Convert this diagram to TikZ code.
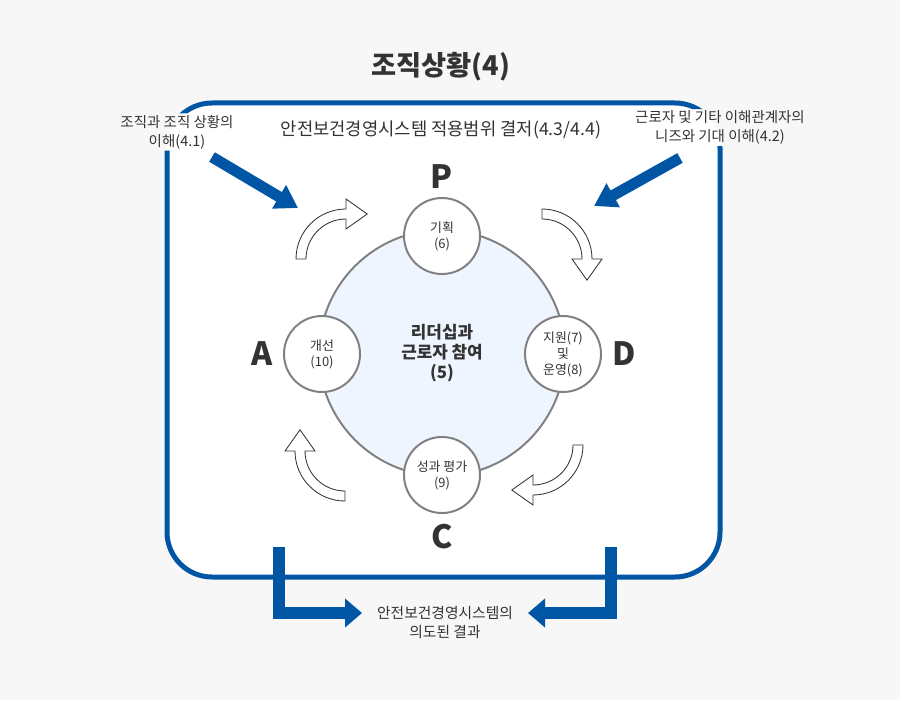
\documentclass[tikz,border=0pt]{standalone}
\usepackage{fontspec}
\setmainfont{Noto Sans CJK KR}
\usepackage[dvipsnames]{xcolor}
\usetikzlibrary{calc, positioning}
\usetikzlibrary{arrows.meta}

\definecolor{frameblue}{RGB}{0,85,165}
\definecolor{inkgray}{RGB}{51,51,51}
\definecolor{ringgray}{RGB}{128,128,128}
\definecolor{leaderfill}{RGB}{238,245,254}
\definecolor{pagegray}{RGB}{247,247,247}

\tikzset{
    stage/.style={circle, draw=ringgray, line width=1.4pt, fill=white, minimum size=1.9cm, inner sep=0pt, align=center, font=\fontsize{9.2}{11.4}\selectfont},
    phase/.style={inner sep=0pt, font=\fontsize{22.8}{24}\selectfont\bfseries},
    note/.style={align=center, inner sep=1pt, font=\fontsize{10.3}{13.5}\selectfont},
    bluearrow/.style={draw=frameblue, line width=0.275cm, -{Triangle[length=0.55cm, width=0.65cm]}},
    outarrow/.style={draw=frameblue, line width=0.3cm, -{Triangle[length=0.425cm, width=0.7cm]}},
    turnarrow/.style={draw=inkgray, line width=0.6pt, fill=white},
    frameline/.style={draw=frameblue, line width=0.125cm, rounded corners=1.125cm}
}

\newcommand{\cyclearrow}[2]{%
    \draw[turnarrow] ($(#1)+(#2:1.25)$) arc[start angle=#2, delta angle=-90, radius=1.25]
        -- ($(#1)+(#2-90:1.5)$) -- ($(#1)+(#2-90:1.125)+(#2-180:0.53)$)
        -- ($(#1)+(#2-90:0.75)$) -- ($(#1)+(#2-90:1)$)
        arc[start angle=#2-90, delta angle=90, radius=1] -- cycle;
}

\begin{document}
\begin{tikzpicture}[text=inkgray]
            \useasboundingbox (0,0) rectangle (22.5,-17.5);
            \fill[pagegray] (0,0) rectangle (22.5,-17.5);
            \fill[white, rounded corners=1.125cm] (4.175,-2.575) rectangle (18,-14.425);

            \node[font=\fontsize{19.4}{22}\selectfont\bfseries] (title) at (11.025,-1.675) {조직상황(4)};
            \node[font=\fontsize{12.6}{14}\selectfont] (range) at (11.025,-3.25) {안전보건경영시스템 적용범위 결저(4.3/4.4)};
            \node[note] (context) at (4.425,-3.3) {조직과 조직 상황의\\이해(4.1)};
            \node[note] (needs) at (18,-3.19) {근로자 및 기타 이해관계자의\\니즈와 기대 이해(4.2)};

            \begin{scope}[even odd rule]
                \clip (0,0) rectangle (22.5,-17.5)
                    (context.south west) rectangle (context.north east)
                    (needs.south west) rectangle (needs.north east);
                \draw[frameline] (4.175,-2.575) rectangle (18,-14.425);
            \end{scope}

            \node[circle, draw=ringgray, line width=1.4pt, fill=leaderfill, minimum size=6.15cm, inner sep=0pt, align=center, font=\fontsize{12}{14.4}\selectfont\bfseries] (leader) at (11.05,-8.825) {리더십과\\근로자 참여\\(5)};

            \node[stage] (plan) at (11.05,-5.9) {기획\\(6)};
            \node[stage] (support) at (14.075,-8.85) {지원(7)\\및\\운영(8)};
            \node[stage] (check) at (11.05,-11.875) {성과 평가\\(9)};
            \node[stage] (improve) at (8.05,-8.85) {개선\\(10)};

            \node[phase, above=2mm of plan] (pletter) {P};
            \node[phase, right=2.5mm of support] (dletter) {D};
            \node[phase, below=2.5mm of check] (cletter) {C};
            \node[phase, left=2.5mm of improve] (aletter) {A};

            \coordinate (tl) at (8.65,-6.475);
            \coordinate (tr) at (13.55,-6.475);
            \coordinate (br) at (13.325,-11.125);
            \coordinate (bl) at (8.625,-11.275);
            \cyclearrow{tl}{180}
            \cyclearrow{tr}{90}
            \cyclearrow{br}{0}
            \cyclearrow{bl}{-90}

            \coordinate (ctxtail) at (5.3,-3.925);
            \coordinate (ctxtip) at (7.45,-5.2);
            \coordinate (needtail) at (17,-3.95);
            \coordinate (needtip) at (14.85,-5.15);
            \draw[bluearrow] (ctxtail) -- (ctxtip);
            \draw[bluearrow] (needtail) -- (needtip);

            \node[note, font=\fontsize{10.5}{13.5}\selectfont] (outcome) at (11.125,-15.55) {안전보건경영시스템의\\의도된 결과};
            \coordinate (outl) at (6.975,-13.675);
            \coordinate (outltip) at (9.05,-15.325);
            \coordinate (outr) at (15.275,-13.675);
            \coordinate (outrtip) at (13.2,-15.325);
            \draw[outarrow] (outl) |- (outltip);
            \draw[outarrow] (outr) |- (outrtip);
\end{tikzpicture}
\end{document}
